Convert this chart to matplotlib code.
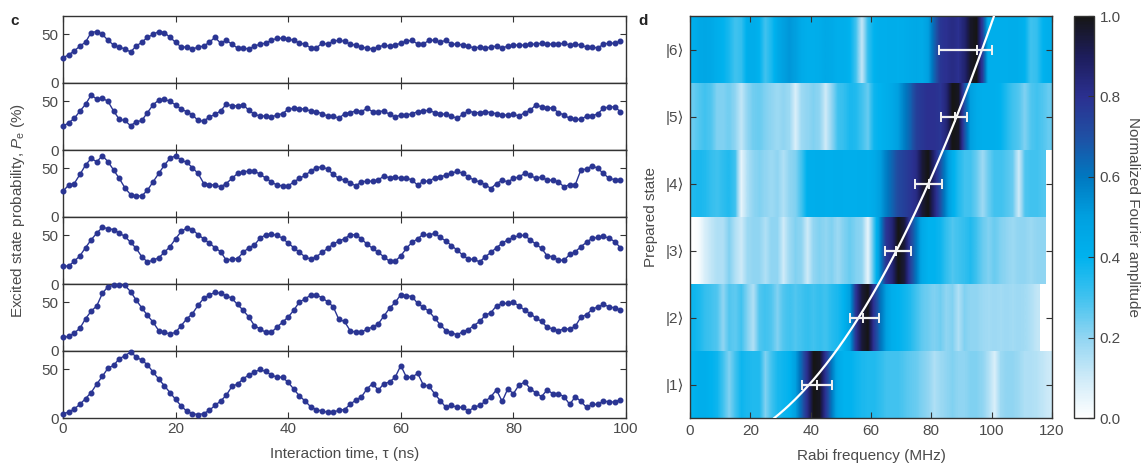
import numpy as np
import matplotlib.pyplot as plt
from matplotlib.colors import LinearSegmentedColormap, Normalize
from matplotlib.cm import ScalarMappable

plt.rcParams['font.family'] = ['Liberation Sans', 'DejaVu Sans']
plt.rcParams['mathtext.fontset'] = 'custom'
plt.rcParams['mathtext.rm'] = 'Liberation Sans'
plt.rcParams['mathtext.it'] = 'Liberation Sans:italic'

# ---- panel c: excited state probability (%) vs interaction time, top to bottom ----
tau_ns = np.arange(100)

trace_top = [26, 29, 33, 38, 42, 52, 53, 50, 44, 39, 37, 35, 32, 38, 42, 47, 50, 53, 52, 47,
             42, 37, 37, 35, 37, 38, 42, 47, 41, 44, 40, 36, 36, 35, 38, 40, 41, 44, 46, 46,
             45, 44, 41, 40, 36, 36, 41, 40, 43, 44, 43, 40, 39, 37, 36, 35, 37, 39, 38, 39,
             41, 43, 44, 40, 40, 44, 44, 42, 44, 40, 40, 39, 38, 36, 37, 36, 37, 38, 36, 38,
             39, 39, 39, 40, 40, 41, 40, 40, 40, 41, 39, 40, 39, 37, 37, 36, 40, 41, 41, 43]
trace_2 = [24.5, 28, 32.5, 40, 47, 56.6, 52.4, 53.5, 50, 40, 31.5, 30.4, 25, 29, 30.4, 38.5, 46.5, 51.4, 52.4, 50,
           46.5, 42, 39.5, 36, 30.4, 29.7, 34, 36.7, 40.2, 47.2, 45.5, 45.5, 46.5, 41, 36.7, 35, 35, 34, 36, 37.4,
           42, 43, 42.7, 42, 40.2, 39.5, 37.4, 35, 35, 32.5, 37.4, 38.5, 40.2, 39.5, 43, 39.5, 39.5, 40.2, 36.7, 34,
           36, 36, 37.4, 39.5, 40.2, 41, 38.5, 37.4, 36.7, 35, 32.5, 36.7, 40.2, 38.5, 38.5, 39.5, 38.5, 37.4, 36, 36,
           36.7, 35, 38.5, 41, 46.5, 44.4, 43.7, 43, 38.5, 36, 32.5, 31.5, 31.5, 35, 35, 37.4, 43, 44.4, 44.4, 39.5]
trace_3 = [26.6, 32.8, 34.5, 43.8, 53.4, 60.3, 56.9, 63.1, 56.9, 48.3, 39.7, 30, 23.1, 21.7, 21.7, 27.6, 36.2, 44.8, 53.4, 60.3,
           63.1, 58.6, 56.2, 50.7, 44.8, 34.5, 33.4, 32.8, 31, 34.5, 39.7, 44.8, 46.6, 47.2, 47.6, 43.8, 40.3, 36.2, 32.8, 32,
           32, 36.2, 39.7, 43, 47.2, 50.7, 51.7, 49.3, 43.8, 39.7, 37.9, 35.5, 32, 36.2, 36.9, 36.9, 37.9, 42.4, 40.3, 41.4,
           39.7, 40.3, 37.9, 32.8, 36.9, 36.9, 40.3, 41.4, 43, 44.8, 47.2, 44.8, 41.4, 37.9, 36.2, 33.4, 29.3, 34.5, 37.9, 36.2,
           39.7, 41.4, 44.8, 43, 39.7, 41.4, 37.9, 37.9, 36.2, 31, 33.4, 33.4, 48.6, 49.3, 52.8, 50, 44.8, 39.7, 38.5, 38.5]
trace_4 = [18.5, 18.5, 23.4, 29, 37.4, 45.5, 52.4, 58.4, 57, 56, 52.4, 49, 43, 36.7, 28, 22.7, 24.5, 27, 32.5, 38.5,
           46.5, 54.2, 57.7, 56, 50.7, 46.5, 42, 37.4, 33.2, 24.5, 25.5, 26.2, 32.5, 37.4, 40.2, 47.2, 50.7, 51.4, 50, 47.2,
           42, 37.4, 32.5, 28, 25.5, 28, 32.5, 36.7, 41, 44.4, 46.5, 50.7, 50.7, 46.5, 41, 36.7, 32.5, 28, 23.4, 23.4,
           29, 36.7, 43, 46.5, 51.4, 50, 52.4, 47.9, 44.4, 39.5, 35, 29.7, 25.5, 25.5, 22.7, 28, 32.5, 37.4, 42, 45.5,
           47.9, 50, 50, 45.5, 41, 36.7, 29, 28, 24.5, 24.5, 30.4, 33.2, 38.5, 43, 47.2, 47.9, 49, 47.2, 43.7, 37.4]
trace_5 = [14, 15, 18.5, 23.4, 33.2, 41, 46.5, 59.4, 66.4, 67.5, 68, 67.5, 61.2, 52.4, 44.4, 36.7, 29.7, 21, 19.2, 17.5,
           19.2, 26.2, 33.2, 38.5, 47.2, 54.2, 57.7, 60.5, 59.4, 57, 54.2, 47.9, 42, 35, 26.2, 22.7, 19.2, 19.2, 24.5, 29.7,
           35, 42, 50.7, 53.5, 57.7, 57.7, 54.9, 50.7, 45.5, 32.5, 30.4, 21, 19.2, 19.2, 22.7, 24.5, 28, 36, 44, 50,
           58, 57, 56, 49, 45, 41, 34, 27, 21, 19, 16.5, 19.9, 22, 26.2, 30.4, 36.7, 39.5, 46.5, 49, 49,
           50, 46.5, 42, 38.5, 33.9, 30.4, 24.5, 22.7, 21, 22.7, 22.7, 25.5, 35, 37.4, 43, 45.5, 47.9, 45.5, 44.4, 42]
trace_bottom = [4.5, 6, 9.4, 14, 20, 26.2, 35, 43, 51.4, 54.2, 61.2, 64, 68, 63, 59.4, 54.9, 47.2, 40.2, 33.2, 26.2,
                19.2, 12.2, 7, 4.5, 3.5, 4.5, 8, 12.9, 17.5, 23.4, 32.5, 35, 40.2, 44.4, 47.2, 50, 47.9, 44.4, 42, 42,
                36.7, 29.7, 22.7, 17.5, 11.5, 8.7, 7, 6, 6, 8, 8.7, 14, 18.5, 21.7, 30, 35.5, 28.6, 35.5, 37, 42,
                54, 42, 42, 46, 34, 33, 25, 18, 11, 13, 11, 11, 7, 11, 13, 17, 22, 29, 17, 30,
                25, 34, 37, 30, 26, 22, 29, 25, 25, 22, 14, 22, 17, 11, 14, 14, 17.6, 16.5, 16.5, 19]
traces = [trace_top, trace_2, trace_3, trace_4, trace_5, trace_bottom]

# ---- panel d: normalized Fourier amplitude, 2 MHz bins starting at 0 MHz ----
row_1 = [0.40, 0.42, 0.42, 0.40, 0.38, 0.30, 0.22, 0.30, 0.38, 0.36, 0.35, 0.35, 0.22, 0.30, 0.36,
         0.38, 0.40, 0.50, 0.65, 0.82, 1.00, 0.98, 0.78, 0.60, 0.45, 0.40, 0.40, 0.38, 0.36, 0.35,
         0.35, 0.33, 0.30, 0.30, 0.30, 0.28, 0.26, 0.25, 0.22, 0.20, 0.15, 0.18, 0.20, 0.22, 0.20,
         0.20, 0.22, 0.22, 0.20, 0.15, 0.08, 0.18, 0.20, 0.20, 0.18, 0.15, 0.15, 0.14, 0.12, 0.10]
row_2 = [0.38, 0.36, 0.32, 0.30, 0.28, 0.20, 0.28, 0.26, 0.30, 0.22, 0.15, 0.28, 0.30, 0.28, 0.22,
         0.28, 0.30, 0.28, 0.30, 0.32, 0.30, 0.32, 0.30, 0.34, 0.36, 0.40, 0.50, 0.78, 0.95, 1.00,
         0.78, 0.62, 0.50, 0.42, 0.40, 0.38, 0.35, 0.30, 0.26, 0.24, 0.22, 0.24, 0.20, 0.22, 0.15,
         0.22, 0.20, 0.20, 0.18, 0.17, 0.18, 0.17, 0.18, 0.17, 0.18, 0.17, 0.15, 0.12]
row_3 = [0.00, 0.02, 0.08, 0.12, 0.15, 0.15, 0.22, 0.15, 0.10, 0.18, 0.20, 0.20, 0.15, 0.20, 0.20,
         0.10, 0.18, 0.22, 0.20, 0.10, 0.20, 0.22, 0.20, 0.22, 0.18, 0.22, 0.25, 0.22, 0.20, 0.05,
         0.30, 0.55, 0.78, 0.85, 1.00, 0.95, 0.75, 0.60, 0.45, 0.40, 0.40, 0.38, 0.32, 0.28, 0.30,
         0.32, 0.35, 0.30, 0.25, 0.22, 0.25, 0.22, 0.20, 0.18, 0.20, 0.20, 0.18, 0.20, 0.20]
row_4 = [0.35, 0.36, 0.35, 0.32, 0.30, 0.33, 0.35, 0.30, 0.05, 0.15, 0.20, 0.22, 0.20, 0.18, 0.20,
         0.15, 0.20, 0.22, 0.30, 0.42, 0.42, 0.43, 0.42, 0.42, 0.43, 0.42, 0.42, 0.42, 0.43, 0.42,
         0.44, 0.50, 0.58, 0.65, 0.72, 0.75, 0.78, 0.82, 0.95, 1.00, 0.85, 0.70, 0.55, 0.42, 0.35,
         0.30, 0.30, 0.25, 0.18, 0.25, 0.30, 0.30, 0.28, 0.25, 0.10, 0.28, 0.30, 0.30, 0.28]
row_5 = [0.25, 0.28, 0.30, 0.28, 0.22, 0.22, 0.24, 0.20, 0.12, 0.20, 0.24, 0.25, 0.22, 0.20, 0.18,
         0.20, 0.18, 0.08, 0.18, 0.20, 0.22, 0.20, 0.10, 0.20, 0.30, 0.32, 0.36, 0.35, 0.30, 0.25,
         0.38, 0.40, 0.42, 0.45, 0.50, 0.58, 0.65, 0.75, 0.78, 0.80, 0.80, 0.78, 0.85, 1.00, 0.98,
         0.70, 0.50, 0.44, 0.42, 0.42, 0.42, 0.40, 0.35, 0.30, 0.28, 0.22, 0.28, 0.30, 0.28, 0.25]
row_6 = [0.42, 0.45, 0.46, 0.45, 0.42, 0.40, 0.36, 0.30, 0.32, 0.42, 0.43, 0.40, 0.30, 0.36, 0.44,
         0.50, 0.52, 0.50, 0.44, 0.42, 0.42, 0.43, 0.45, 0.44, 0.42, 0.42, 0.40, 0.30, 0.12, 0.32,
         0.40, 0.42, 0.42, 0.43, 0.42, 0.43, 0.44, 0.45, 0.44, 0.50, 0.65, 0.78, 0.80, 0.82, 0.80,
         0.86, 0.97, 1.00, 0.75, 0.42, 0.42, 0.42, 0.42, 0.43, 0.42, 0.40, 0.30, 0.32, 0.40, 0.42]
rows = [row_1, row_2, row_3, row_4, row_5, row_6]
bin_mhz = 2.0

states = [1, 2, 3, 4, 5, 6]
state_labels = ['|1⟩', '|2⟩', '|3⟩', '|4⟩', '|5⟩', '|6⟩']
peak_mhz = [42.0, 57.3, 68.4, 79.2, 88.0, 95.3]
err_low = [37.2, 52.9, 64.5, 74.7, 83.3, 82.7]
err_high = [47.0, 62.5, 73.3, 83.5, 91.9, 100.2]

# ---- style ----
dot_blue = '#2a3593'
text_grey = '#4a4a4a'
spine_col = '#333333'
cmap = LinearSegmentedColormap.from_list('fourier', [
    (0.0, '#ffffff'), (0.1, '#cdeaf8'), (0.2, '#90d5f2'), (0.3, '#40c2ef'),
    (0.4, '#00b2ee'), (0.5, '#00a0e0'), (0.6, '#0078c0'), (0.7, '#1f50a4'),
    (0.8, '#2b3090'), (0.9, '#1d1d5c'), (1.0, '#161616')])

W, H = 1145, 466
fig = plt.figure(figsize=(W / 100, H / 100), dpi=100)

def fx(px):
    return px / W

def fy(px):
    return 1 - px / H

# stacked time traces
top_px, panel_px = 16, 67
for i, tr in enumerate(traces):
    ax = fig.add_axes([fx(63), fy(top_px + (i + 1) * panel_px), fx(563), panel_px / H])
    ax.plot(tau_ns, tr, '-o', color=dot_blue, lw=1.0, ms=3.3, clip_on=False, zorder=3)
    ax.set_xlim(0, 100)
    ax.set_ylim(0, 69)
    ax.set_xticks(range(0, 101, 20))
    ax.set_yticks([0, 50])
    ax.tick_params(direction='in', top=True, right=True, length=4, width=0.8,
                   labelsize=11, labelcolor=text_grey, color=spine_col, pad=3)
    for s in ax.spines.values():
        s.set_color(spine_col)
        s.set_linewidth(1.0)
    if i < len(traces) - 1:
        ax.tick_params(labelbottom=False)
    else:
        ax.set_xlabel('Interaction time, τ (ns)', fontsize=11, color=text_grey, labelpad=8)

fig.text(fx(18), fy(210), 'Excited state probability, $P_{\\mathrm{e}}$ (%)', rotation=90,
         ha='center', va='center', fontsize=11, color=text_grey)
fig.text(fx(15), fy(21), 'c', fontsize=11, fontweight='bold', ha='center', va='center', color='#222222')
fig.text(fx(643), fy(21), 'd', fontsize=11, fontweight='bold', ha='center', va='center', color='#222222')

# heatmap
axh = fig.add_axes([fx(690), fy(418), fx(362), 402 / H])
norm = Normalize(vmin=0, vmax=1)
for n, vals in zip(states, rows):
    axh.imshow(np.array([vals]), extent=[0, bin_mhz * len(vals), n - 0.5, n + 0.5],
               aspect='auto', interpolation='bilinear', cmap=cmap, norm=norm, zorder=1)

# sqrt(n) fit through the measured peaks
sq = np.sqrt(states)
scale = np.sum(np.array(peak_mhz) * sq) / np.sum(sq ** 2)
n_fine = np.linspace(0.3, 6.7, 200)
axh.plot(scale * np.sqrt(n_fine), n_fine, color='white', lw=1.6, zorder=3)

xerr = [np.array(peak_mhz) - np.array(err_low), np.array(err_high) - np.array(peak_mhz)]
axh.errorbar(peak_mhz, states, xerr=xerr, fmt='|', color='#f2f2f2', ms=7, mew=1.4,
             elinewidth=1.6, capsize=3.5, capthick=1.4, zorder=4)

axh.set_xlim(0, 120)
axh.set_ylim(0.5, 6.5)
axh.set_xticks(range(0, 121, 20))
axh.set_yticks(states)
axh.set_yticklabels(state_labels)
axh.tick_params(direction='in', top=True, right=True, length=4, width=0.8,
                labelsize=11, labelcolor=text_grey, color=spine_col, pad=4)
for s in axh.spines.values():
    s.set_color(spine_col)
    s.set_linewidth(1.0)
axh.set_xlabel('Rabi frequency (MHz)', fontsize=11, color=text_grey, labelpad=8)
axh.set_ylabel('Prepared state', fontsize=11, color=text_grey, labelpad=6)

# colour bar
cax = fig.add_axes([fx(1074), fy(418), fx(20), 402 / H])
cb = fig.colorbar(ScalarMappable(norm=norm, cmap=cmap), cax=cax)
cb.set_ticks([0.0, 0.2, 0.4, 0.6, 0.8, 1.0])
cb.set_ticklabels(['0.0', '0.2', '0.4', '0.6', '0.8', '1.0'])
cb.ax.tick_params(direction='in', length=4, width=0.8, labelsize=11,
                  labelcolor=text_grey, color=spine_col, pad=4)
cb.outline.set_edgecolor(spine_col)
cb.outline.set_linewidth(1.0)
cb.set_label('Normalized Fourier amplitude', rotation=270, fontsize=11,
             color=text_grey, labelpad=14)

fig.savefig('out.png', dpi=100)
